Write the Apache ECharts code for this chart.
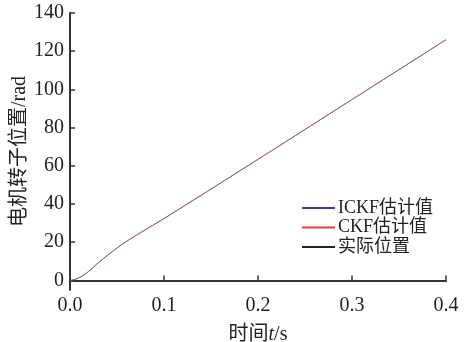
<!DOCTYPE html>
<html>
<head>
<meta charset="utf-8">
<script src="https://cdn.jsdelivr.net/npm/echarts@6/dist/echarts.min.js"></script>
<style>
  html, body { margin: 0; padding: 0; background: #fff; }
  #chart { width: 464px; height: 342px; }
</style>
</head>
<body>
<div id="chart"></div>
<script>
// time (s) and rotor position (rad)
const times = [0, 0.005, 0.01, 0.015, 0.02, 0.025, 0.03, 0.04, 0.05, 0.06, 0.07, 0.08, 0.1, 0.2, 0.3, 0.4];
const ickfValues = [0, 0.5, 1.5, 3, 4.8, 7, 9.2, 13.2, 17, 20.4, 23.5, 26.5, 32.4, 63.4, 94.7, 126];
const ckfValues = [0, 0.5, 1.5, 3, 4.8, 7, 9.2, 13.2, 17, 20.4, 23.5, 26.5, 32.4, 63.4, 94.7, 126];
const actualValues = [0, 0.5, 1.5, 3, 4.8, 7, 9.2, 13.2, 17, 20.4, 23.5, 26.5, 32.4, 63.4, 94.7, 126];
const yTicks = [0, 20, 40, 60, 80, 100, 120, 140];
const seriesNames = ['ICKF估计值', 'CKF估计值', '实际位置'];
const seriesColors = ['#3b3ba8', '#f03a2e', '#222222'];

const serif = '"Liberation Serif", "Noto Sans CJK SC", serif';
const axisColor = '#333';

const toPairs = (vals) => times.map((t, i) => [t, vals[i]]);

const chart = echarts.init(document.getElementById('chart'));

const option = {
  animation: false,
  grid: { left: 70, right: 18, top: 13, bottom: 52, outerBoundsMode: 'none' },
  legend: {
    orient: 'vertical',
    left: 297,
    top: 194,
    itemWidth: 33,
    itemHeight: 2,
    itemGap: 1.5,
    icon: 'rect',
    textStyle: { fontFamily: serif, fontSize: 18, lineHeight: 18, color: '#222', padding: [0, 0, 0, -2] },
    data: seriesNames
  },
  xAxis: {
    type: 'value',
    min: 0,
    max: 0.4,
    interval: 0.1,
    name: '时间{i|t}/s',
    nameLocation: 'middle',
    nameGap: 35,
    nameMoveOverlap: false,
    nameTextStyle: {
      fontFamily: serif,
      fontSize: 20,
      color: '#222',
      rich: { i: { fontFamily: serif, fontSize: 20, fontStyle: 'italic', color: '#222' } }
    },
    axisLine: { show: true, lineStyle: { color: axisColor, width: 2 } },
    axisTick: { show: true, inside: true, length: 5, lineStyle: { color: axisColor, width: 1.5 } },
    axisLabel: {
      fontFamily: serif,
      fontSize: 20,
      color: '#222',
      margin: 6,
      formatter: (v) => v.toFixed(1)
    },
    splitLine: { show: false }
  },
  yAxis: {
    type: 'value',
    min: -5,
    max: 140,
    name: '电机转子位置/rad',
    nameLocation: 'middle',
    nameGap: 40,
    nameMoveOverlap: false,
    nameRotate: 90,
    nameTextStyle: { fontFamily: serif, fontSize: 20, color: '#222' },
    axisLine: { show: true, lineStyle: { color: axisColor, width: 2 } },
    axisTick: { show: true, inside: true, length: 5, customValues: yTicks, lineStyle: { color: axisColor, width: 1.5 } },
    axisLabel: {
      fontFamily: serif,
      fontSize: 20,
      color: '#222',
      margin: 6,
      customValues: yTicks
    },
    splitLine: { show: false }
  },
  series: [
    {
      name: seriesNames[0],
      type: 'line',
      data: toPairs(ickfValues),
      showSymbol: false,
      smooth: true,
      color: seriesColors[0],
      lineStyle: { width: 1, color: seriesColors[0], opacity: 0.5 }
    },
    {
      name: seriesNames[1],
      type: 'line',
      data: toPairs(ckfValues),
      showSymbol: false,
      smooth: true,
      color: seriesColors[1],
      lineStyle: { width: 1, color: seriesColors[1], opacity: 0.5 }
    },
    {
      name: seriesNames[2],
      type: 'line',
      data: toPairs(actualValues),
      showSymbol: false,
      smooth: true,
      color: seriesColors[2],
      lineStyle: { width: 1, color: '#6a6060', opacity: 0.6 }
    }
  ]
};

chart.setOption(option);
</script>
</body>
</html>
